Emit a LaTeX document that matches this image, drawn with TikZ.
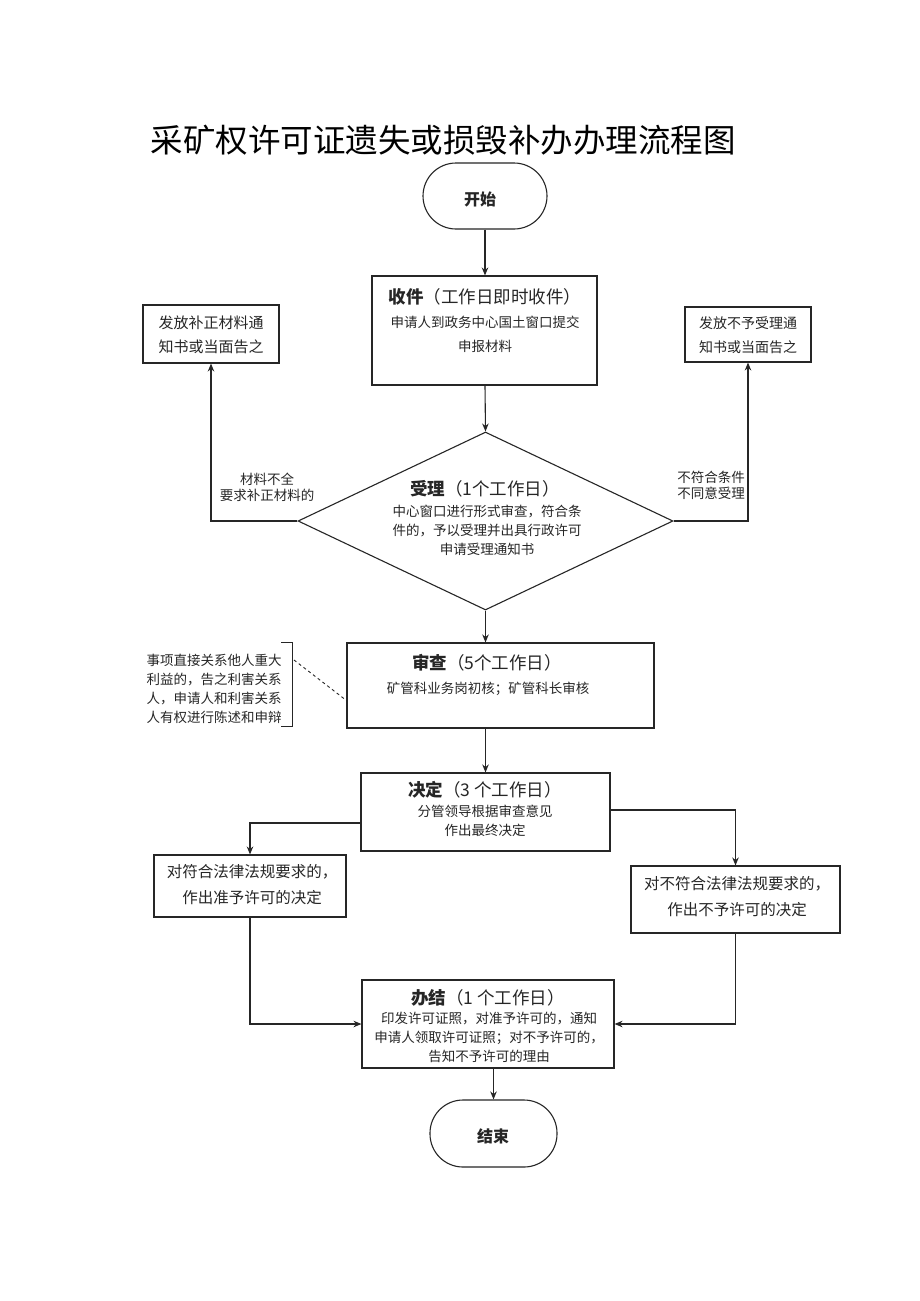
\documentclass[tikz,border=0pt]{standalone}
\usepackage{fontspec}
\setmainfont{Noto Sans CJK SC}
\usetikzlibrary{arrows.meta,shapes.geometric}
\tikzset{
  ln/.style={draw=black!85, line width=1.1pt},
  arr/.style={ln, -{Stealth[length=8pt,width=6.5pt]}},
  boxnode/.style={ln, rectangle, inner sep=0pt},
  stadium/.style={ln, rectangle, rounded corners=33pt, inner sep=0pt},
  txt/.style={text=black!85, inner sep=0pt, align=center},
  body/.style={txt, font=\fontsize{13.5}{19}\selectfont},
  bigbody/.style={txt, font=\fontsize{15.5}{26}\selectfont},
  hdr/.style={txt, font=\fontsize{17.5}{21}\selectfont},
}
\begin{document}
\begin{tikzpicture}[x=1pt,y=-1pt]
\useasboundingbox[fill=white] (0,0) rectangle (920,1301);

% title
\node[txt, text=black, font=\fontsize{32.5}{38}\selectfont] (title) at (443,140) {采矿权许可证遗失或损毁补办办理流程图};

% start
\node[stadium, minimum width=124pt, minimum height=66pt] (start) at (485,196) {};
\node[txt, font=\bfseries\fontsize{16}{19}\selectfont] (startT) at (480,199) {开始};

% shoujian
\node[boxnode, minimum width=225pt, minimum height=109pt] (shou) at (484.5,330.5) {};
\node[hdr] (shouT) at (485,297) {\textbf{收件}（工作日即时收件）};
\node[body, font=\fontsize{13.5}{24}\selectfont] (shouB) at (485,334) {申请人到政务中心国土窗口提交\\申报材料};

% side boxes
\node[boxnode, minimum width=136pt, minimum height=58pt] (left1) at (211,334) {};
\node[bigbody, font=\fontsize{15}{24}\selectfont] (left1T) at (211,335) {发放补正材料通\\知书或当面告之};
\node[boxnode, minimum width=126pt, minimum height=55pt] (right1) at (748,334.5) {};
\node[body, font=\fontsize{14}{24}\selectfont] (right1T) at (748,335) {发放不予受理通\\知书或当面告之};

% diamond
\node[ln, diamond, minimum width=375pt, minimum height=178pt, inner sep=0pt] (shouli) at (485.5,521) {};
\node[hdr] (shouliT) at (485,489) {\textbf{受理}（1个工作日）};
\node[body] (shouliB) at (487,530) {中心窗口进行形式审查，符合条\\件的，予以受理并出具行政许可\\申请受理通知书};

\node[body, font=\fontsize{13.5}{16}\selectfont] (lblL) at (267,487) {材料不全\\要求补正材料的};
\node[body, font=\fontsize{13.5}{16}\selectfont] (lblR) at (711,485) {不符合条件\\不同意受理};

% shencha
\node[boxnode, minimum width=307pt, minimum height=85pt] (shencha) at (500.5,685.5) {};
\node[hdr] (shenchaT) at (487,663) {\textbf{审查}（5个工作日）};
\node[body] (shenchaB) at (488,689) {矿管科业务岗初核；矿管科长审核};

\node[body, align=left] (note) at (214,689) {事项直接关系他人重大\\利益的，告之利害关系\\人，申请人和利害关系\\人有权进行陈述和申辩};
\draw[ln, line width=0.9pt] (281,642) -- (292,642) -- (292,726) -- (281,726);
\coordinate (noteEnd) at (294,660);
\draw[ln, line width=0.9pt, dashed] (noteEnd) -- ([yshift=-15pt]shencha.west);

% jueding
\node[boxnode, minimum width=249pt, minimum height=78pt] (jueding) at (485.5,812) {};
\node[hdr] (juedingT) at (485,790) {\textbf{决定}（3 个工作日）};
\node[body] (juedingB) at (485,821) {分管领导根据审查意见\\作出最终决定};

\node[boxnode, minimum width=192pt, minimum height=62pt] (leftD) at (250,886) {};
\node[bigbody] (leftDT) at (252,885) {对符合法律法规要求的，\\作出准予许可的决定};
\node[boxnode, minimum width=209pt, minimum height=67pt] (rightD) at (735.5,899.5) {};
\node[bigbody] (rightDT) at (737,897) {对不符合法律法规要求的，\\作出不予许可的决定};

% banjie
\node[boxnode, minimum width=252pt, minimum height=88pt] (banjie) at (488,1024) {};
\node[hdr] (banjieT) at (488,998) {\textbf{办结}（1 个工作日）};
\node[body] (banjieB) at (489,1037) {印发许可证照，对准予许可的，通知\\申请人领取许可证照；对不予许可的，\\告知不予许可的理由};

% end
\node[stadium, minimum width=127pt, minimum height=67pt] (end) at (493.5,1133.5) {};
\node[txt, font=\bfseries\fontsize{16}{19}\selectfont] (endT) at (493,1136) {结束};

% connectors
\draw[arr] (start.south) -- (shou.north -| start.south);
\draw[arr] (shou.south -| start.south) -- (shouli.north);
\draw[arr] (shouli.west) -| (left1.south);
\draw[arr] (shouli.east) -| (right1.south);
\draw[arr] (shouli.south) -- (shouli.south |- shencha.north);
\draw[arr] (shouli.south |- shencha.south) -- (shouli.south |- jueding.north);
\draw[arr] ([yshift=-11pt]jueding.west) -| (leftD.north);
\draw[arr] ([yshift=2pt]jueding.east) -| (rightD.north);
\draw[arr] (leftD.south) |- (banjie.west);
\draw[arr] (rightD.south) |- (banjie.east);
\draw[arr] (end.north |- banjie.south) -- (end.north);
\end{tikzpicture}
\end{document}
